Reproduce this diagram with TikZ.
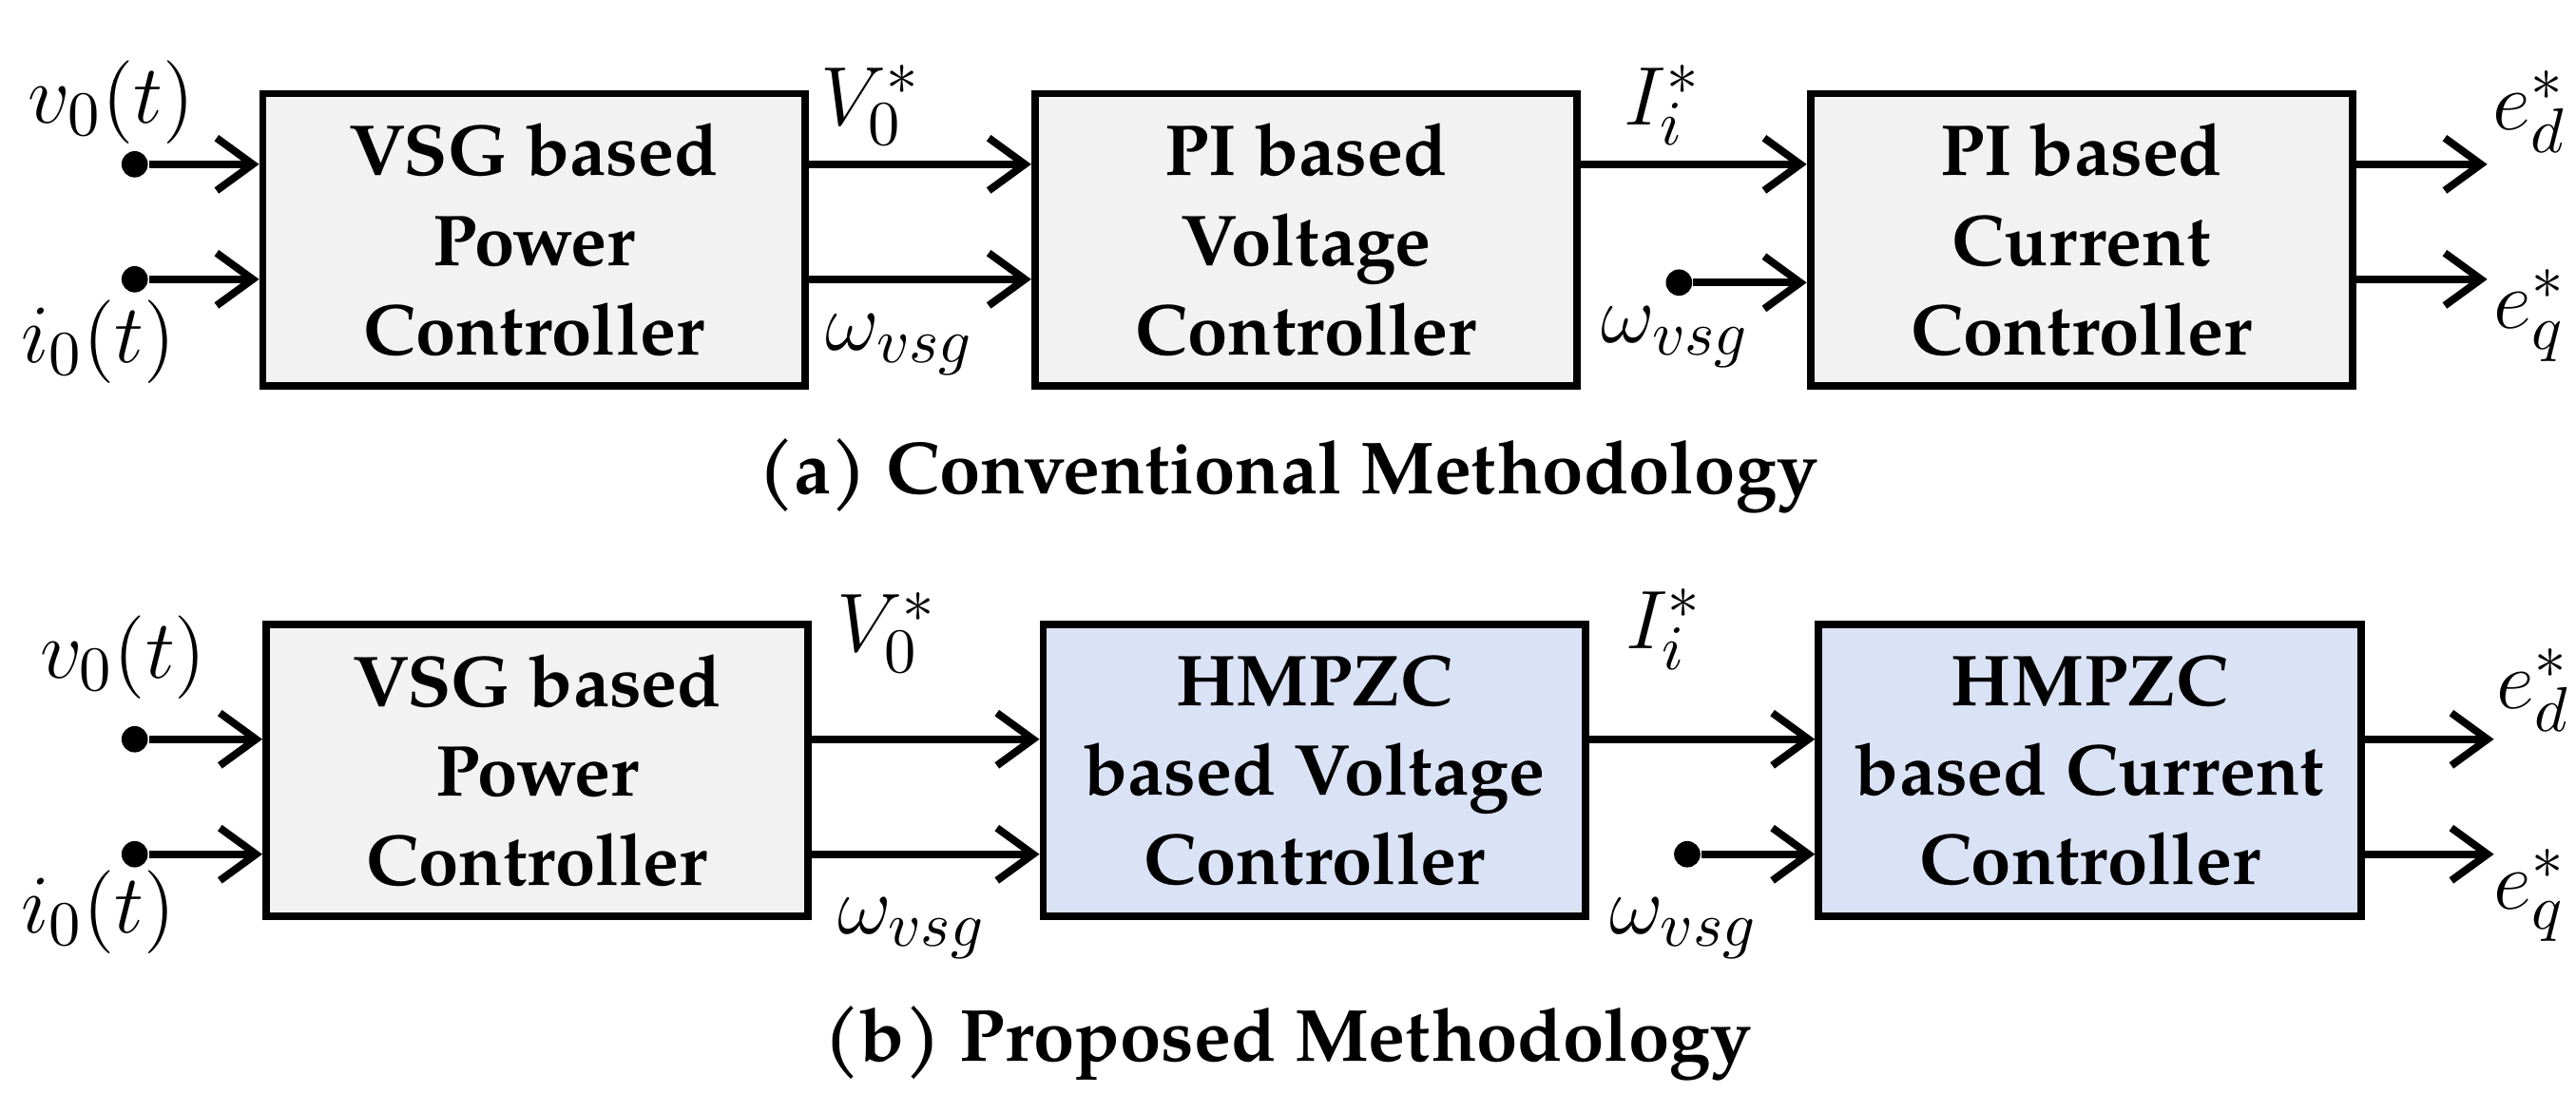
\documentclass[tikz,border=0pt]{standalone}
\usepackage{fontspec}
\setmainfont{TeX Gyre Pagella}[Scale=1]
\usetikzlibrary{arrows.meta}
\definecolor{lb}{RGB}{218,227,246}
\begin{document}
\begin{tikzpicture}[x=0.1mm,y=-0.1mm,
  blk/.style={draw,line width=1.3pt,minimum width=33mm,minimum height=17.8mm,align=center,font=\fontsize{12.5}{15.5}\selectfont\bfseries},
  gray/.style={blk,fill=black!5},
  blue/.style={blk,fill=lb},
  arr/.style={line width=1.3pt,-{Straight Barb[length=2.2mm,width=3.2mm]}},
  dot/.style={circle,fill,inner sep=0pt,minimum size=1.6mm},
  lab/.style={font=\fontsize{15}{18}\selectfont},
  captxt/.style={font=\fontsize{12.8}{16}\selectfont\bfseries}]
\useasboundingbox (0,0) rectangle (1568,677);
% row a
\node[gray] (a1) at (325,146) {VSG based\\Power\\Controller};
\node[gray] (a2) at (795,146) {PI based\\Voltage\\Controller};
\node[gray] (a3) at (1267,146) {PI based\\Current\\Controller};
\node[dot] (av) at (82,100) {}; \node[dot] (ai) at (82,170) {};
\draw[arr] (av) -- (av -| a1.west);
\draw[arr] (ai) -- (ai -| a1.west);
\node[lab] (lv) at (68,62) {$v_0(t)$};
\node[lab] (li) at (60,208) {$i_0(t)$};
\draw[arr] (a1.east |- av) -- (a2.west |- av);
\draw[arr] (a1.east |- ai) -- (a2.west |- ai);
\node[lab] at (530,64) {$V_0^*$};
\node[lab] at (548,210) {$\omega_{vsg}$};
\draw[arr] (a2.east |- av) -- (a3.west |- av);
\node[lab] at (1012,64) {$I_i^*$};
\node[dot] (aw) at (1022,172) {};
\draw[arr] (aw) -- (aw -| a3.west);
\node[lab] at (1020,205) {$\omega_{vsg}$};
\coordinate (aod) at (1514,100); \coordinate (aoq) at (1514,170);
\draw[arr] (a3.east |- aod) -- (aod);
\draw[arr] (a3.east |- aoq) -- (aoq);
\node[lab] at (1540,68) {$e_d^*$};
\node[lab] at (1540,192) {$e_q^*$};
\node[captxt] at (784,290) {(a) Conventional Methodology};
% row b
\node[gray] (b1) at (327,469) {VSG based\\Power\\Controller};
\node[blue] (b2) at (800,469) {HMPZC\\based Voltage\\Controller};
\node[blue] (b3) at (1272,469) {HMPZC\\based Current\\Controller};
\node[dot] (bv) at (82,450) {}; \node[dot] (bi) at (82,520) {};
\draw[arr] (bv) -- (bv -| b1.west);
\draw[arr] (bi) -- (bi -| b1.west);
\node[lab] at (75,400) {$v_0(t)$};
\node[lab] at (60,555) {$i_0(t)$};
\draw[arr] (b1.east |- bv) -- (b2.west |- bv);
\draw[arr] (b1.east |- bi) -- (b2.west |- bi);
\node[lab] at (540,385) {$V_0^*$};
\node[lab] at (555,565) {$\omega_{vsg}$};
\draw[arr] (b2.east |- bv) -- (b3.west |- bv);
\node[lab] at (1013,383) {$I_i^*$};
\node[dot] (bw) at (1027,520) {};
\draw[arr] (bw) -- (bw -| b3.west);
\node[lab] at (1025,565) {$\omega_{vsg}$};
\coordinate (bod) at (1518,450); \coordinate (boq) at (1518,520);
\draw[arr] (b3.east |- bod) -- (bod);
\draw[arr] (b3.east |- boq) -- (boq);
\node[lab] at (1542,420) {$e_d^*$};
\node[lab] at (1540,545) {$e_q^*$};
\node[captxt] at (784,635) {(b) Proposed Methodology};
\end{tikzpicture}
\end{document}
